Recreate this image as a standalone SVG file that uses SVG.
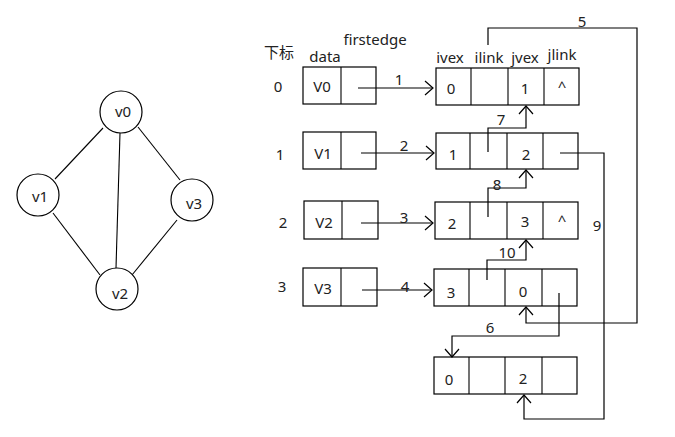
<svg xmlns="http://www.w3.org/2000/svg" width="675" height="437" viewBox="0 0 675 437">
<defs>
<marker id="arr" viewBox="0 0 10 16" markerWidth="10" markerHeight="16" refX="9" refY="8" orient="auto" markerUnits="userSpaceOnUse">
<path d="M1,1 L9,8 L1,15" fill="none" stroke="#000" stroke-width="1.2"/>
</marker>
</defs>
<style>
text{font-family:"Noto Sans","Noto Sans CJK SC",sans-serif;font-size:15px;fill:#222;text-anchor:middle}
.b{fill:#fff;stroke:#000;stroke-width:1.2}
.l{fill:none;stroke:#000;stroke-width:1.1}
.a{fill:none;stroke:#000;stroke-width:1.2;marker-end:url(#arr)}
</style>
<rect width="675" height="437" fill="#fff"/>
<g id="graph-edges">
<line class="l" x1="103" y1="128" x2="55" y2="179"/>
<line class="l" x1="120" y1="133" x2="116" y2="268"/>
<line class="l" x1="138" y1="127" x2="180" y2="180"/>
<line class="l" x1="53" y1="213" x2="100" y2="275"/>
<line class="l" x1="177" y1="220" x2="132" y2="275"/>
</g>
<g id="v0"><circle class="b" cx="121" cy="112" r="21"/><text x="123" y="117">v0</text></g>
<g id="v1"><circle class="b" cx="38" cy="195" r="21"/><text x="40" y="202">v1</text></g>
<g id="v3"><circle class="b" cx="192" cy="200" r="21"/><text x="194" y="209">v3</text></g>
<g id="v2"><circle class="b" cx="117" cy="289" r="21"/><text x="120" y="299">v2</text></g>
<g id="headers">
<text x="279" y="58">下标</text>
<text x="325" y="62">data</text>
<text x="375" y="45">firstedge</text>
<text x="450" y="63">ivex</text>
<text x="489" y="63">ilink</text>
<text x="525" y="63">jvex</text>
<text x="562" y="60">jlink</text>
<text x="278" y="92">0</text>
<text x="280" y="160">1</text>
<text x="283" y="228">2</text>
<text x="282" y="292">3</text>
</g>
<g id="head0"><rect class="b" x="303" y="67" width="73" height="37"/><line class="l" x1="341" y1="67" x2="341" y2="104"/><text x="322" y="92">V0</text></g>
<g id="head1"><rect class="b" x="303" y="132" width="73" height="37"/><line class="l" x1="341" y1="132" x2="341" y2="169"/><text x="323" y="159">V1</text></g>
<g id="head2"><rect class="b" x="304" y="201" width="74" height="38"/><line class="l" x1="342" y1="201" x2="342" y2="239"/><text x="324" y="228">V2</text></g>
<g id="head3"><rect class="b" x="303" y="268" width="74" height="38"/><line class="l" x1="341" y1="268" x2="341" y2="306"/><text x="323" y="294">V3</text></g>
<g id="edge0"><rect class="b" x="436" y="68" width="143" height="37"/><path class="l" d="M471,68V105M508,68V105M544,68V105"/><text x="451" y="94">0</text><text x="525" y="94">1</text><text x="562" y="92">^</text></g>
<g id="edge1"><rect class="b" x="436" y="133" width="142" height="36"/><path class="l" d="M470,133V169M507,133V169M543,133V169"/><text x="453" y="160">1</text><text x="526" y="160">2</text></g>
<g id="edge2"><rect class="b" x="435" y="202" width="143" height="37"/><path class="l" d="M470,202V239M507,202V239M543,202V239"/><text x="452" y="229">2</text><text x="525" y="227">3</text><text x="562" y="226">^</text></g>
<g id="edge3"><rect class="b" x="434" y="269" width="143" height="37"/><path class="l" d="M469,269V306M505,269V306M542,269V306"/><text x="451" y="298">3</text><text x="523" y="297">0</text></g>
<g id="edge4"><rect class="b" x="434" y="357" width="143" height="37"/><path class="l" d="M469,357V394M505,357V394M542,357V394"/><text x="449" y="385">0</text><text x="523" y="384">2</text></g>
<g id="connectors">
<path class="a" d="M358,88H433"/>
<path class="a" d="M361,153H434"/>
<path class="a" d="M361,223H433"/>
<path class="a" d="M362,290H432"/>
<path class="a" d="M488,45V28H637V323H526V307"/>
<path class="a" d="M488,152V128H526V106"/>
<path class="a" d="M488,217V188H526V170"/>
<path class="a" d="M487,280V260H526V240"/>
<path class="a" d="M560,153H604V419H524V395"/>
<path class="a" d="M559,293V336H452V357"/>
</g>
<g id="labels">
<text x="399" y="85">1</text>
<text x="404" y="151">2</text>
<text x="404" y="223">3</text>
<text x="405" y="292">4</text>
<text x="582" y="27">5</text>
<text x="490" y="333">6</text>
<text x="501" y="125">7</text>
<text x="497" y="190">8</text>
<text x="597" y="231">9</text>
<text x="507" y="258">10</text>
</g>
</svg>
